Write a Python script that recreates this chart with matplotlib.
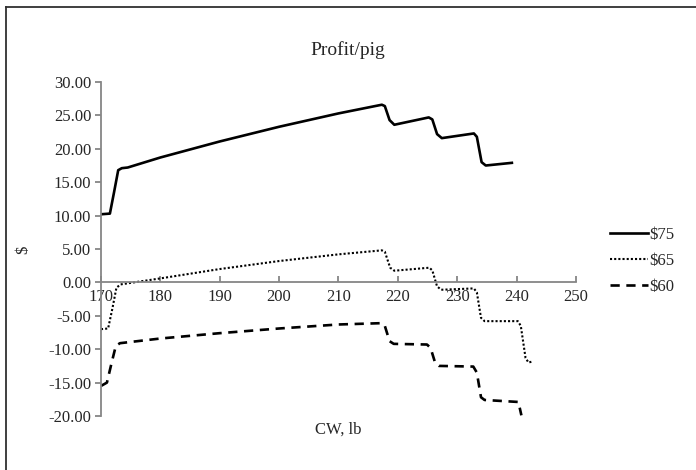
import matplotlib
matplotlib.use("Agg")
import matplotlib.pyplot as plt
from matplotlib.lines import Line2D

plt.rcParams['font.family'] = ['Liberation Serif', 'DejaVu Serif']

# carcass weight (lb) and profit per pig ($) for three prices
cw_75 = [170, 171.5, 172.2, 172.9, 173.5, 174.5, 180, 190, 200, 210, 217.3, 217.8,
         218.6, 219.4, 225.2, 225.8, 226.6, 227.4, 232.8, 233.3, 234.1, 234.8, 239.2]
profit_75 = [10.2, 10.3, 13.5, 16.8, 17.1, 17.2, 18.7, 21.1, 23.3, 25.3, 26.6, 26.4,
             24.3, 23.6, 24.7, 24.4, 22.2, 21.6, 22.3, 21.8, 18.0, 17.5, 17.9]

cw_65 = [170, 171.2, 171.9, 172.6, 173.3, 180, 190, 200, 210, 217.3, 217.8, 218.7,
         219.4, 225.3, 225.8, 226.6, 227.3, 232.8, 233.3, 234.0, 234.6, 240.2, 240.7,
         241.5, 242.0, 242.8]
profit_65 = [-7.0, -6.9, -4.0, -0.8, -0.3, 0.6, 2.0, 3.2, 4.2, 4.8, 4.6, 2.2,
             1.75, 2.2, 1.8, -0.6, -1.1, -0.9, -1.5, -5.3, -5.8, -5.8, -6.5,
             -11.3, -12.0, -11.8]

cw_60 = [170, 171.0, 171.8, 172.5, 173.2, 180, 190, 200, 210, 217.3, 217.8, 218.6,
         219.3, 224.9, 225.5, 226.3, 226.9, 232.7, 233.3, 234.0, 234.6, 240.3, 240.8]
profit_60 = [-15.5, -15.0, -12.0, -9.5, -9.1, -8.4, -7.6, -6.9, -6.3, -6.1, -6.5, -8.8,
             -9.2, -9.3, -9.8, -12.1, -12.5, -12.6, -13.5, -17.2, -17.6, -17.9, -19.9]

labels = ['$75', '$65', '$60']
x_ticks = [170, 180, 190, 200, 210, 220, 230, 240, 250]
y_ticks = [30, 25, 20, 15, 10, 5, 0, -5, -10, -15, -20]

text_col = '#262626'
axis_col = '#868686'

fig = plt.figure(figsize=(6.96, 4.70), dpi=100)
ax = fig.add_axes([0.1451, 0.1149, 0.6825, 0.7106])

ax.plot(cw_75, profit_75, color='black', lw=1.9, ls='-', label=labels[0])
ax.plot(cw_65, profit_65, color='black', lw=1.5, ls=(0, (1, 1)), label=labels[1])
ax.plot(cw_60, profit_60, color='black', lw=1.9, ls=(0, (3.5, 2.5)), label=labels[2])

ax.set_xlim(170, 250)
ax.set_ylim(-20, 30)
ax.set_xticks(x_ticks)
ax.set_yticks(y_ticks)
ax.set_yticklabels([f"{v:.2f}" for v in y_ticks])

for s in ('top', 'right'):
    ax.spines[s].set_visible(False)
ax.spines['bottom'].set_position(('data', 0))
for s in ('left', 'bottom'):
    ax.spines[s].set_color(axis_col)
    ax.spines[s].set_linewidth(1.3)

ax.tick_params(axis='y', direction='out', length=4, width=1.3, color=axis_col,
               labelsize=12, labelcolor=text_col, pad=3)
ax.tick_params(axis='x', direction='in', length=4, width=1.3, color=axis_col,
               labelsize=12, labelcolor=text_col, pad=5)

fig.text(0.5, 0.894, 'Profit/pig', ha='center', va='center', fontsize=14, color=text_col)
fig.text(0.033, 0.468, '$', ha='center', va='center', rotation=90, fontsize=12, color=text_col)
fig.text(0.486, 0.085, 'CW, lb', ha='center', va='center', fontsize=12, color=text_col)

ax.legend(loc='center left', bbox_to_anchor=(0.876, 0.445), bbox_transform=fig.transFigure,
          frameon=False, fontsize=12, handlelength=2.3, handletextpad=0.1,
          labelspacing=0.6, borderpad=0, borderaxespad=0, labelcolor=text_col)

# partial outer frame (top and left edges)
fig.add_artist(Line2D([0.0093, 1.0], [0.986, 0.986], transform=fig.transFigure,
                      color='#303030', lw=1.3))
fig.add_artist(Line2D([0.0093, 0.0093], [0.0, 0.986], transform=fig.transFigure,
                      color='#303030', lw=1.3))

fig.savefig('out.png', dpi=100)
